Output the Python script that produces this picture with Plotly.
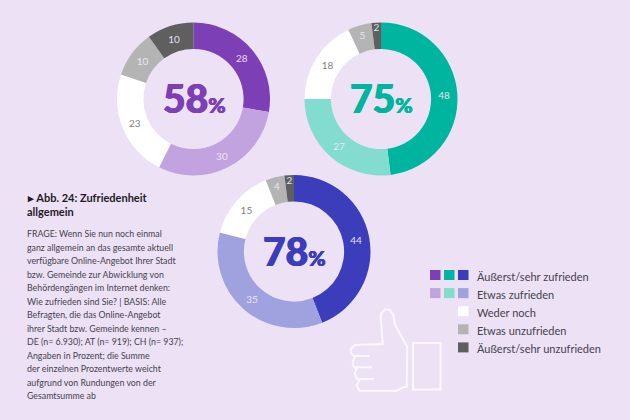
import plotly.graph_objects as go

WIDTH = 630
HEIGHT = 420
BG = "#ece1f5"
FONT = "Lato"
TEXT = "#47424d"
TITLE = "#1f1a24"
OUTLINE = "#fbf8fd"

CATEGORIES = ["Äußerst/sehr zufrieden", "Etwas zufrieden", "Weder noch", "Etwas unzufrieden", "Äußerst/sehr unzufrieden"]

VALUES_DE = [28, 30, 23, 10, 10]
VALUES_AT = [48, 27, 18, 5, 2]
VALUES_CH = [44, 35, 15, 4, 2]

TOTALS = ["58", "75", "78"]

COLORS_DE = ["#7d3fb5", "#c2a3e0", "#ffffff", "#b4b4b4", "#5f5f5f"]
COLORS_AT = ["#00b5a0", "#82dccf", "#ffffff", "#b4b4b4", "#5f5f5f"]
COLORS_CH = ["#3b3dbb", "#a0a2e0", "#ffffff", "#b4b4b4", "#5f5f5f"]
LABEL_COLORS = ["#e8dff2", "#ece4f5", "#808080", "#ece4f5", "#e8dff2"]

NOTE_LINES = [
    "FRAGE: Wenn Sie nun noch einmal",
    "ganz allgemein an das gesamte aktuell",
    "verfügbare Online-Angebot Ihrer Stadt",
    "bzw. Gemeinde zur Abwicklung von",
    "Behördengängen im Internet denken:",
    "Wie zufrieden sind Sie? | BASIS: Alle",
    "Befragten, die das Online-Angebot",
    "ihrer Stadt bzw. Gemeinde kennen –",
    "DE (n= 6.930); AT (n= 919); CH (n= 937);",
    "Angaben in Prozent; die Summe",
    "der einzelnen Prozentwerte weicht",
    "aufgrund von Rundungen von der",
    "Gesamtsumme ab",
]

# Umriss des Daumens in Bildpixeln
THUMB = [
    (380.7, 316.7), (382.7, 344), (355, 345), (350.7, 349), (351, 353.3), (355, 357.3), (352.7, 361.7),
    (353.3, 366), (356.7, 369), (354.7, 373.3), (356.7, 378.3), (359.3, 380.7), (356.7, 385), (359.3, 390.7),
    (396.7, 390.7), (403.3, 387.3), (406.7, 386.7), (407.3, 346.7), (395, 325), (393.3, 315), (390, 310),
    (385, 309.3), (381.7, 312.7),
]
FINGERS = [(355, 369.5, 356), (355, 372, 367.3), (357, 374, 379)]


def px(x):
    return x / WIDTH


def py(y):
    return 1 - y / HEIGHT


def add_donut(fig, values, colors, cx, cy, r):
    fig.add_trace(
        go.Pie(
            values=values,
            labels=CATEGORIES,
            marker=dict(colors=colors, line=dict(width=0)),
            domain=dict(x=[px(cx - r), px(cx + r)], y=[py(cy + r), py(cy - r)]),
            hole=0.655,
            sort=False,
            direction="clockwise",
            rotation=0,
            textinfo="value",
            textposition="inside",
            insidetextorientation="horizontal",
            textfont=dict(family=FONT, size=10, color=LABEL_COLORS),
            showlegend=False,
        )
    )


def add_total(fig, total, color, cx, cy):
    # Schatten macht die Ziffern so kraeftig wie im Original
    fig.add_annotation(
        x=px(cx),
        y=py(cy),
        xref="paper",
        yref="paper",
        xanchor="center",
        yanchor="middle",
        text=f"<span style='font-size:39px'>{total}</span><span style='font-size:21px'>%</span>",
        showarrow=False,
        font=dict(family=FONT, color=color, weight=900, shadow=f"0.6px 0 0 {color}, -0.6px 0 0 {color}"),
    )


def add_text(fig, x, y, text, size, color, weight=400):
    fig.add_annotation(
        x=px(x),
        y=py(y),
        xref="paper",
        yref="paper",
        xanchor="left",
        yanchor="middle",
        text=text,
        showarrow=False,
        font=dict(family=FONT, size=size, color=color, weight=weight),
    )


fig = go.Figure()

add_donut(fig, VALUES_DE, COLORS_DE, 193.5, 99, 76.5)
add_donut(fig, VALUES_AT, COLORS_AT, 381, 99, 76.5)
add_donut(fig, VALUES_CH, COLORS_CH, 294, 251.5, 76.5)

add_total(fig, TOTALS[0], COLORS_DE[0], 194, 98)
add_total(fig, TOTALS[1], COLORS_AT[0], 381, 98)
add_total(fig, TOTALS[2], COLORS_CH[0], 294, 250.5)

# Titel und Fussnote
add_text(fig, 24.5, 197, "▸ Abb. 24: Zufriedenheit", 11, TITLE, 700)
add_text(fig, 24.5, 211, "allgemein", 11, TITLE, 700)
for i, line in enumerate(NOTE_LINES):
    add_text(fig, 24.5, 233.5 + i * 13.5, line, 8.8, TEXT)

# Legende
legend_rows = [
    (COLORS_DE[0], COLORS_AT[0], COLORS_CH[0]),
    (COLORS_DE[1], COLORS_AT[1], COLORS_CH[1]),
    (None, None, COLORS_CH[2]),
    (None, None, COLORS_CH[3]),
    (None, None, COLORS_CH[4]),
]
for i, (row, name) in enumerate(zip(legend_rows, CATEGORIES)):
    y = 275 + i * 18.1
    for x, color in zip((430, 444, 458), row):
        if color:
            fig.add_shape(
                type="rect", xref="paper", yref="paper", x0=px(x), x1=px(x + 10.5), y0=py(y + 5), y1=py(y - 5),
                fillcolor=color, line_width=0,
            )
    add_text(fig, 474.5, y + 1, name, 11, TEXT)

# Daumen
path = "M " + " L ".join(f"{px(x):.4f},{py(y):.4f}" for x, y in THUMB) + " Z"
fig.add_shape(type="path", xref="paper", yref="paper", path=path, line=dict(color=OUTLINE, width=2))
for x0, x1, y in FINGERS:
    fig.add_shape(
        type="line", xref="paper", yref="paper", x0=px(x0), x1=px(x1), y0=py(y), y1=py(y),
        line=dict(color=OUTLINE, width=2),
    )
fig.add_shape(
    type="rect", xref="paper", yref="paper", x0=px(413), x1=px(440.5), y0=py(389.5), y1=py(343),
    line=dict(color=OUTLINE, width=2),
)

fig.update_layout(
    width=WIDTH,
    height=HEIGHT,
    margin=dict(l=0, r=0, t=0, b=0),
    paper_bgcolor=BG,
    plot_bgcolor=BG,
    font=dict(family=FONT),
    uniformtext=dict(minsize=10, mode="show"),
)

fig.write_html(
    "out.html",
    config=dict(displayModeBar=False),
    post_script="document.body.style.margin='0';",
)
